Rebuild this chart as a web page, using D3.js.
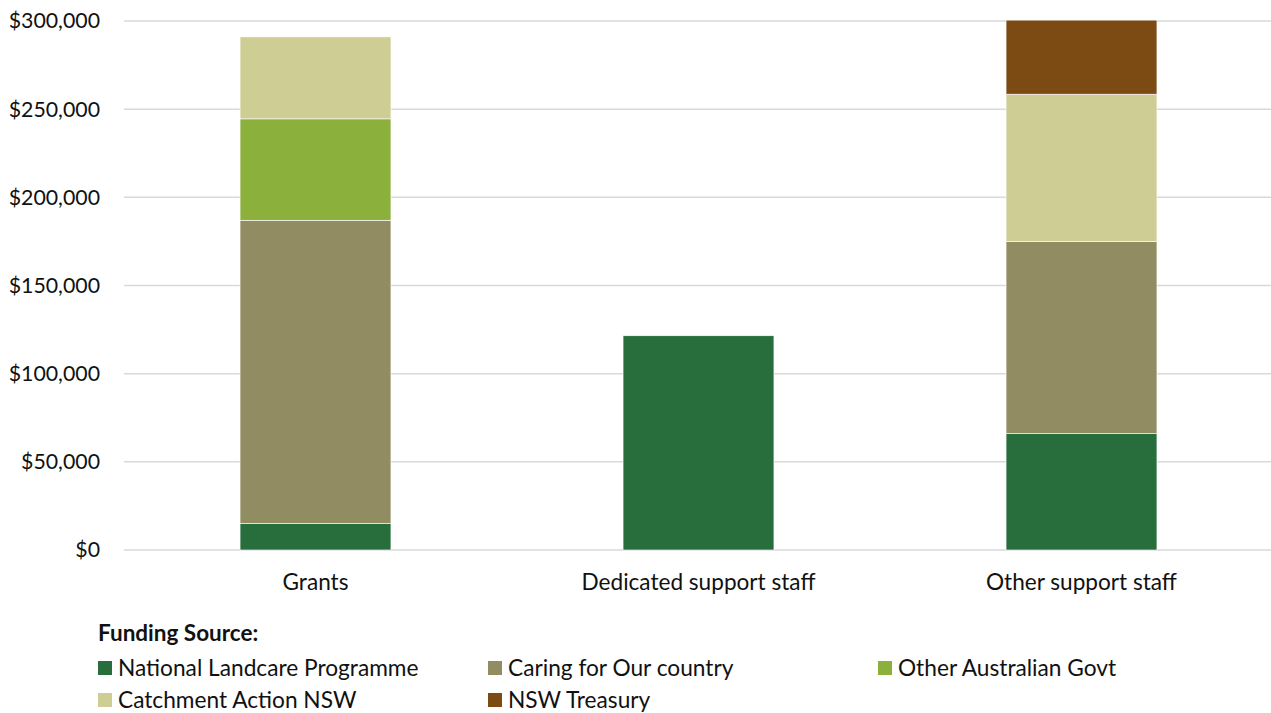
<!DOCTYPE html>
<html><head><meta charset="utf-8">
<script src="https://cdn.jsdelivr.net/npm/d3@7"></script>
<style>body{margin:0;background:#fff}svg{display:block;font-family:Lato,"Open Sans",sans-serif}</style>
</head><body><svg id="c" width="1271" height="713"></svg>
<script>
const categories = ["Grants", "Dedicated support staff", "Other support staff"];
const seriesNames = ["National Landcare Programme", "Caring for Our country", "Other Australian Govt", "Catchment Action NSW", "NSW Treasury"];
const nationalLandcare = [15000, 121500, 66000];
const caringForOurCountry = [172000, 0, 109000];
const otherAustralianGovt = [57500, 0, 0];
const catchmentActionNSW = [46500, 0, 83500];
const nswTreasury = [0, 0, 42000];
const yTicks = [0, 50000, 100000, 150000, 200000, 250000, 300000];
const colors = ["#276e3c", "#928c62", "#8cb03c", "#cdcd94", "#7c4b14"];

const seriesValues = [nationalLandcare, caringForOurCountry, otherAustralianGovt, catchmentActionNSW, nswTreasury];
const rows = categories.map((c, i) => {
  const r = {cat: c};
  seriesNames.forEach((s, j) => r[s] = seriesValues[j][i]);
  return r;
});
const stack = d3.stack().keys(seriesNames)(rows);

const svg = d3.select("#c");
const x = d3.scaleBand().domain(categories).range([124, 1273]).paddingInner(0.606).paddingOuter(0.303);
const y = d3.scaleLinear().domain([0, 300000]).range([550, 21]);

svg.append("g").selectAll("line").data(yTicks).join("line")
  .attr("x1", 124).attr("x2", 1271).attr("y1", d => y(d)).attr("y2", d => y(d))
  .attr("stroke", "#d9d9d9").attr("stroke-width", 1.5);

const fmt = d => "$" + d3.format(",")(d);
svg.append("g").selectAll("text").data(yTicks).join("text")
  .attr("x", 100).attr("y", d => y(d)).attr("dy", "0.35em").attr("text-anchor", "end")
  .attr("font-size", 21.3).attr("fill", "#111").text(fmt);

svg.append("g").selectAll("g").data(stack).join("g")
  .attr("fill", (d, i) => colors[i])
  .selectAll("rect").data(d => d.filter(p => p[1] > p[0])).join("rect")
  .attr("x", d => x(d.data.cat)).attr("width", x.bandwidth())
  .attr("y", d => y(d[1])).attr("height", d => y(d[0]) - y(d[1]))
  .attr("stroke", "#fff").attr("stroke-width", 0.6);

svg.append("g").selectAll("text").data(categories).join("text")
  .attr("x", d => x(d) + x.bandwidth() / 2).attr("y", 582).attr("dy", "0.35em")
  .attr("text-anchor", "middle").attr("font-size", 22.6).attr("fill", "#111").text(d => d);

svg.append("text").attr("x", 98).attr("y", 633).attr("dy", "0.35em")
  .attr("font-size", 22.5).attr("font-weight", "bold").attr("fill", "#111").text("Funding Source:");

const lg = svg.append("g").selectAll("g").data(seriesNames).join("g")
  .attr("transform", (d, i) => `translate(${98 + (i % 3) * 390},${668 + Math.floor(i / 3) * 32})`);
lg.append("rect").attr("x", 0).attr("y", -7).attr("width", 14).attr("height", 14).attr("fill", (d, i) => colors[i]);
lg.append("text").attr("x", 20).attr("dy", "0.35em").attr("font-size", 22.7).attr("fill", "#111").text(d => d);
</script></body></html>
